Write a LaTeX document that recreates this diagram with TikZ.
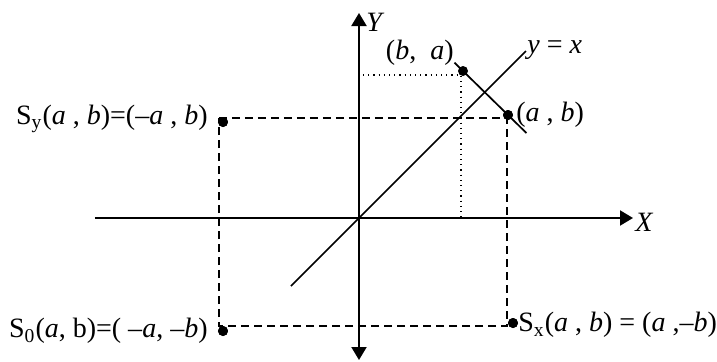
\documentclass[tikz,border=0pt]{standalone}
\usepackage{fontspec}
\setmainfont{Liberation Serif}
\usetikzlibrary{arrows.meta,positioning,calc}

\begin{document}
\begin{tikzpicture}[x=0.5pt,y=0.5pt,>={Triangle[length=6.5pt,width=7.5pt]},
  lbl/.style={font=\fontsize{14}{16}\selectfont,inner sep=0pt},
  pt/.style={circle,fill=black,minimum size=5pt,inner sep=0pt},
  axis/.style={line width=1pt},
  guide/.style={line width=0.85pt,dash pattern=on 4pt off 2.5pt}]
\useasboundingbox (-359,-143) rectangle (358,218);
% axes
\coordinate (xl) at (-264,0);
\coordinate (xr) at (274,0);
\coordinate (yb) at (0,-142);
\coordinate (yt) at (0,205);
\draw[axis,->] (xl) -- (xr);
\draw[axis,<->] (yb) -- (yt);
\node[lbl,anchor=west] (X) at (276,-4) {\textit{X}};
\node[lbl,anchor=west] (Y) at (7,196) {\textit{Y}};
% line y = x
\coordinate (d1) at (-68,-68);
\coordinate (d2) at (167,167);
\draw[line width=0.85pt] (d1) -- (d2);
\node[lbl,anchor=west] (yx) at (168,168) {\textit{y} = \textit{x}};
% points
\node[pt] (ab) at (149,103) {};
\node[pt] (ba) at (104,147) {};
\node[pt] (sy) at (-136,96) {};
\node[pt] (so) at (-136,-113) {};
\node[pt] (sx) at (154,-105) {};
% reflection segment
\draw[line width=0.85pt] ($(ba)!-0.19!(ab)$) -- ($(ab)!-0.41!(ba)$);
% dotted guides of (b,a)
\coordinate (dy) at (4,143);
\coordinate (dx) at (102,-2);
\draw[line width=0.6pt,dotted] (dy) -| (dx);
% dashed rectangle
\coordinate (c1) at (-140,100);
\coordinate (c2) at (148,100);
\coordinate (c3) at (148,-108);
\coordinate (c4) at (-140,-108);
\draw[guide] (c1) -- (c2) -- (c3) -- (c4) -- cycle;
\node[pt] at (sy) {};
\node[pt] at (so) {};
\node[pt] at (sx) {};
\node[pt] at (ab) {};
% labels
\node[lbl,anchor=east] (balbl) at (95,165) {(\textit{b},\ \ \textit{a})};
\node[lbl,anchor=west] (ablbl) at (157,103) {(\textit{a} , \textit{b})};
\node[lbl,anchor=east] (sylbl) at (-151,99) {S\textsubscript{y}(\textit{a} , \textit{b})=(–\textit{a} , \textit{b})};
\node[lbl,anchor=east] (solbl) at (-151,-113) {S\textsubscript{0}(\textit{a}, b)=( –\textit{a}, –\textit{b})};
\node[lbl,anchor=west] (sxlbl) at (159,-107) {S\textsubscript{x}(\textit{a} , \textit{b}) = (\textit{a} ,–\textit{b})};
\end{tikzpicture}
\end{document}
